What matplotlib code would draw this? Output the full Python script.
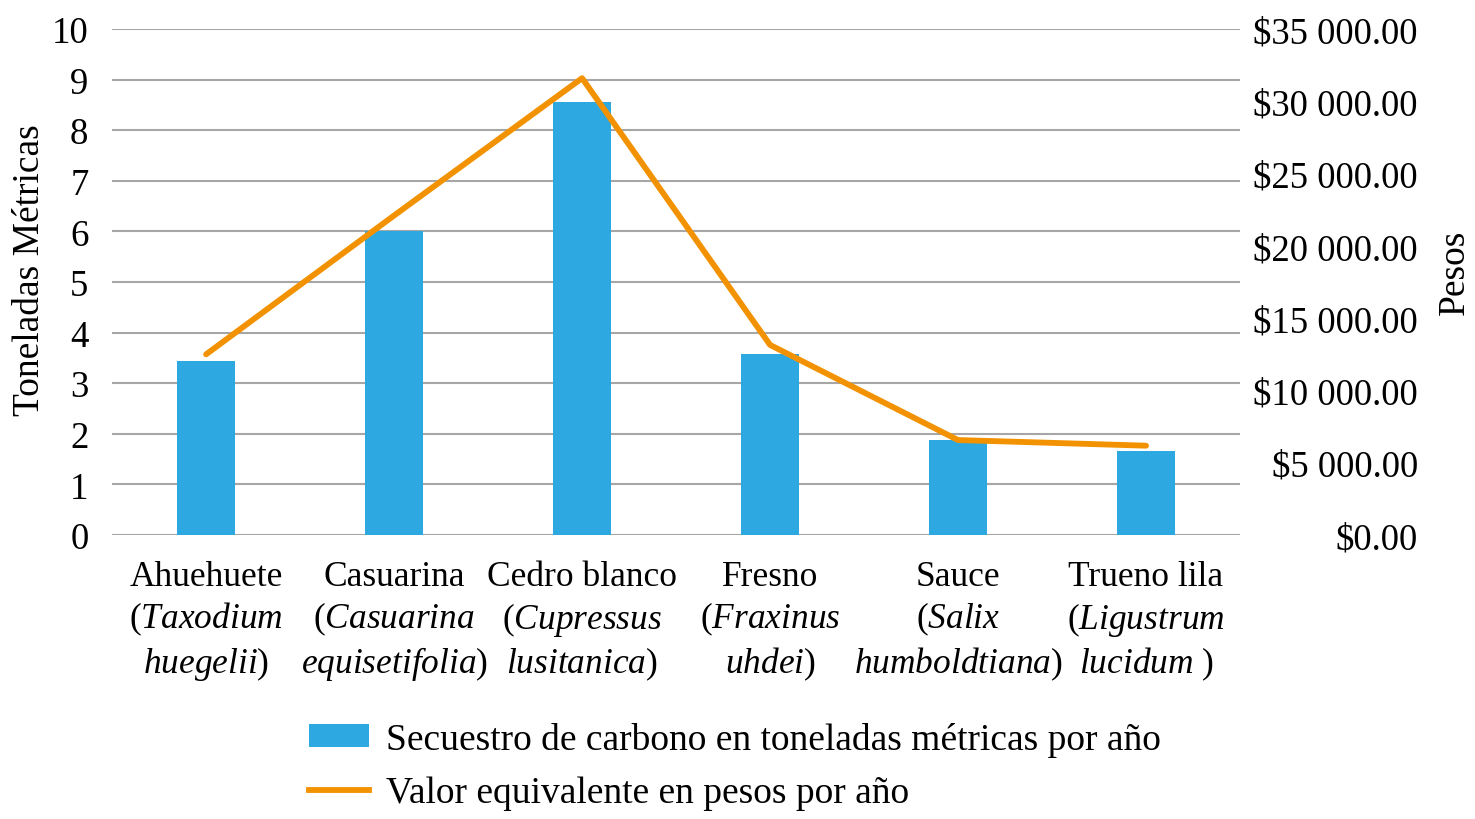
import matplotlib
matplotlib.use("Agg")
import matplotlib.pyplot as plt
from matplotlib.ticker import FuncFormatter, MultipleLocator
from matplotlib.patches import Patch
from matplotlib.lines import Line2D
import numpy as np

# data
common_names = ["Ahuehuete", "Casuarina", "Cedro blanco", "Fresno", "Sauce", "Trueno lila"]
genus = ["Taxodium", "Casuarina", "Cupressus", "Fraxinus", "Salix", "Ligustrum"]
species = ["huegelii", "equisetifolia", "lusitanica", "uhdei", "humboldtiana", "lucidum"]
species_tail = [")", ")", ")", ")", ")", " )"]
tons = [3.44, 6.0, 8.55, 3.58, 1.88, 1.66]
pesos = [12500, 22100, 31600, 13150, 6570, 6180]

bar_label = "Secuestro de carbono en toneladas métricas por año"
line_label = "Valor equivalente en pesos por año"

blue = "#2EA8E0"
orange = "#F39200"
grid_col = "#A6A6A6"

plt.rcParams["font.family"] = ["Liberation Serif", "DejaVu Serif"]
plt.rcParams["mathtext.fontset"] = "custom"
plt.rcParams["mathtext.rm"] = "Liberation Serif"
plt.rcParams["mathtext.it"] = "Liberation Serif:italic"
fs_x = 25.5
fs_y = 26.5
fs = 27

labels = []
for c, g, s, t in zip(common_names, genus, species, species_tail):
    labels.append(f"{c}\n($\\mathit{{{g}}}$\n$\\mathit{{{s}}}${t}")

fig = plt.figure(figsize=(14.75, 8.2), dpi=100)
ax = fig.add_axes([0.076, 0.3463, 0.7647, 0.6171])
x = np.arange(len(tons))

ax.bar(x, tons, width=0.31, color=blue, zorder=2)
ax.set_xlim(-0.5, len(tons) - 0.5)
ax.set_ylim(0, 10)
ax.yaxis.set_major_locator(MultipleLocator(1))
ax.grid(axis="y", color=grid_col, linewidth=1.5, zorder=0)
ax.set_axisbelow(True)
for sp in ax.spines.values():
    sp.set_visible(False)
ax.tick_params(axis="y", length=0, pad=17, labelsize=fs_y)
ax.tick_params(axis="x", length=0, pad=18, labelsize=fs_x)
ax.set_xticks(x)
ax.set_xticklabels(labels, linespacing=1.25)
ax.set_ylabel("Toneladas Métricas", fontsize=fs)
ax.yaxis.set_label_coords(-0.0575, 0.526)

ax2 = ax.twinx()
ax2.plot(x, pesos, color=orange, linewidth=4.2, solid_capstyle="round", zorder=3)
ax2.set_ylim(0, 35000)
ax2.yaxis.set_major_locator(MultipleLocator(5000))
ax2.yaxis.set_major_formatter(FuncFormatter(lambda v, p: "$" + f"{v:,.2f}".replace(",", " ")))
for sp in ax2.spines.values():
    sp.set_visible(False)
ax2.tick_params(axis="y", length=0, pad=128, labelsize=fs_y)
for lab in ax2.get_yticklabels():
    lab.set_horizontalalignment("right")
ax2.set_ylabel("Pesos", fontsize=fs)
ax2.yaxis.set_label_coords(1.175, 0.522)

handles = [Patch(facecolor=blue, edgecolor="none"),
           Line2D([0], [0], color=orange, linewidth=4.2)]
fig.legend(handles, [bar_label, line_label], loc="center",
           bbox_to_anchor=(0.498, 0.065), frameon=False, fontsize=fs,
           handlelength=1.6, handleheight=0.55, handletextpad=0.45,
           labelspacing=0.5)

fig.savefig("out.png", dpi=100)
